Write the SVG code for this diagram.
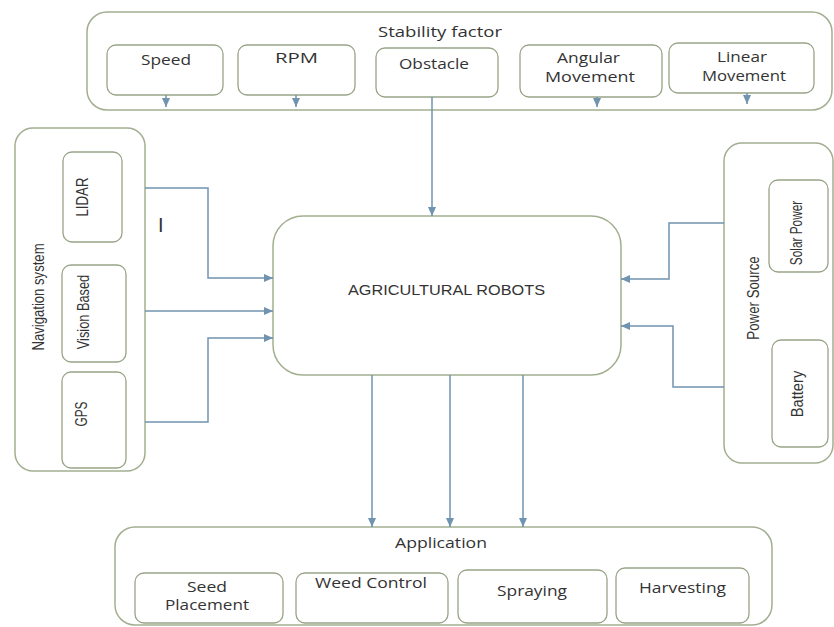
<svg xmlns="http://www.w3.org/2000/svg" width="834" height="627" viewBox="0 0 834 627">
<style>
.cont{fill:#ffffff;stroke:#a2ae90;stroke-width:1.5}
.sub{fill:#ffffff;stroke:#98a486;stroke-width:1.3}
.lbl{font-family:"Open Sans","Liberation Sans",sans-serif;font-size:14px;fill:#333333}
.vl{font-family:"Liberation Sans",sans-serif;font-size:16px;fill:#333333;text-anchor:middle}
.conn{fill:none;stroke:#7093b0;stroke-width:1.5}
</style>
<defs>
<marker id="ah" markerUnits="userSpaceOnUse" markerWidth="9" markerHeight="8" refX="9" refY="4" orient="auto">
<path d="M0,0 L9,4 L0,8 z" fill="#7093b0"/>
</marker>
</defs>
<rect width="834" height="627" fill="#ffffff"/>

<g id="stability-factor">
<rect class="cont" x="87" y="12" width="745" height="98" rx="20"/>
<text class="lbl" x="378" y="37" textLength="124" lengthAdjust="spacingAndGlyphs">Stability factor</text>
</g>
<g id="speed">
<rect class="sub" x="107" y="45" width="116" height="50" rx="9"/>
<text class="lbl" x="141" y="65" textLength="50" lengthAdjust="spacingAndGlyphs">Speed</text>
</g>
<g id="rpm">
<rect class="sub" x="238" y="45" width="117" height="50" rx="9"/>
<text class="lbl" x="275" y="63" textLength="43" lengthAdjust="spacingAndGlyphs">RPM</text>
</g>
<g id="obstacle">
<rect class="sub" x="376" y="48" width="122" height="49" rx="9"/>
<text class="lbl" x="399" y="69" textLength="70" lengthAdjust="spacingAndGlyphs">Obstacle</text>
</g>
<g id="angular-movement">
<rect class="sub" x="520" y="45" width="142" height="52" rx="9"/>
<text class="lbl" x="557" y="63" textLength="63" lengthAdjust="spacingAndGlyphs">Angular</text>
<text class="lbl" x="545" y="82" textLength="90" lengthAdjust="spacingAndGlyphs">Movement</text>
</g>
<g id="linear-movement">
<rect class="sub" x="669" y="43" width="145" height="50" rx="9"/>
<text class="lbl" x="717" y="62" textLength="50" lengthAdjust="spacingAndGlyphs">Linear</text>
<text class="lbl" x="702" y="81" textLength="84" lengthAdjust="spacingAndGlyphs">Movement</text>
</g>

<g id="navigation-system">
<rect class="cont" x="15" y="128" width="130" height="343" rx="18"/>
<text class="vl" transform="translate(38.5,297) rotate(-90) scale(0.82,1)" x="0" y="5.5">Navigation system</text>
</g>
<g id="lidar">
<rect class="sub" x="63" y="152" width="59" height="90" rx="9"/>
<text class="vl" transform="translate(82.5,197) rotate(-90) scale(0.83,1)" x="0" y="5.5">LIDAR</text>
</g>
<g id="vision-based">
<rect class="sub" x="62" y="265" width="64" height="97" rx="9"/>
<text class="vl" transform="translate(83,312) rotate(-90) scale(0.8,1)" x="0" y="5.5">Vision Based</text>
</g>
<g id="gps">
<rect class="sub" x="62" y="372" width="64" height="96" rx="9"/>
<text class="vl" transform="translate(81,414) rotate(-90) scale(0.74,1)" x="0" y="5.5">GPS</text>
</g>

<g id="power-source">
<rect class="cont" x="724" y="143" width="109" height="320" rx="18"/>
<text class="vl" transform="translate(753,298) rotate(-90) scale(0.83,1)" x="0" y="5.5">Power Source</text>
</g>
<g id="solar-power">
<rect class="sub" x="769" y="180" width="59" height="92" rx="9"/>
<text class="vl" transform="translate(796,233) rotate(-90) scale(0.74,1)" x="0" y="5.5">Solar Power</text>
</g>
<g id="battery">
<rect class="sub" x="772" y="340" width="56" height="107" rx="9"/>
<text class="vl" transform="translate(797,394) rotate(-90) scale(0.92,1)" x="0" y="5.5">Battery</text>
</g>

<g id="agricultural-robots">
<rect class="cont" x="273" y="216" width="348" height="159" rx="30"/>
<text x="348" y="295" font-family="Liberation Sans, Arial, sans-serif" font-size="14" fill="#333333" textLength="197" lengthAdjust="spacingAndGlyphs">AGRICULTURAL ROBOTS</text>
</g>

<g id="application">
<rect class="cont" x="115" y="527" width="657" height="98" rx="20"/>
<text class="lbl" x="395" y="548" textLength="92" lengthAdjust="spacingAndGlyphs">Application</text>
</g>
<g id="seed-placement">
<rect class="sub" x="135" y="573" width="148" height="50" rx="9"/>
<text class="lbl" x="187" y="592" textLength="40" lengthAdjust="spacingAndGlyphs">Seed</text>
<text class="lbl" x="165" y="610" textLength="84" lengthAdjust="spacingAndGlyphs">Placement</text>
</g>
<g id="weed-control">
<rect class="sub" x="296" y="573" width="152" height="50" rx="9"/>
<text class="lbl" x="315" y="588" textLength="112" lengthAdjust="spacingAndGlyphs">Weed Control</text>
</g>
<g id="spraying">
<rect class="sub" x="458" y="570" width="149" height="53" rx="9"/>
<text class="lbl" x="497" y="596" textLength="70" lengthAdjust="spacingAndGlyphs">Spraying</text>
</g>
<g id="harvesting">
<rect class="sub" x="616" y="568" width="133" height="55" rx="9"/>
<text class="lbl" x="639" y="593" textLength="87" lengthAdjust="spacingAndGlyphs">Harvesting</text>
</g>

<text x="158" y="232" font-family="Liberation Sans, Arial, sans-serif" font-size="20" fill="#333333">I</text>

<g id="connectors">
<path class="conn" d="M166,95 V107" marker-end="url(#ah)"/>
<path class="conn" d="M296,95 V107" marker-end="url(#ah)"/>
<path class="conn" d="M597,97 V107" marker-end="url(#ah)"/>
<path class="conn" d="M747,93 V104" marker-end="url(#ah)"/>
<path class="conn" d="M432,97 V216" marker-end="url(#ah)"/>
<path class="conn" d="M145,188 H208 V278 H273" marker-end="url(#ah)"/>
<path class="conn" d="M145,311 H273" marker-end="url(#ah)"/>
<path class="conn" d="M145,422 H208 V338 H273" marker-end="url(#ah)"/>
<path class="conn" d="M724,223 H669 V279 H621" marker-end="url(#ah)"/>
<path class="conn" d="M724,387 H673 V326 H621" marker-end="url(#ah)"/>
<path class="conn" d="M372,375 V527" marker-end="url(#ah)"/>
<path class="conn" d="M450,375 V527" marker-end="url(#ah)"/>
<path class="conn" d="M523,375 V527" marker-end="url(#ah)"/>
</g>
</svg>
